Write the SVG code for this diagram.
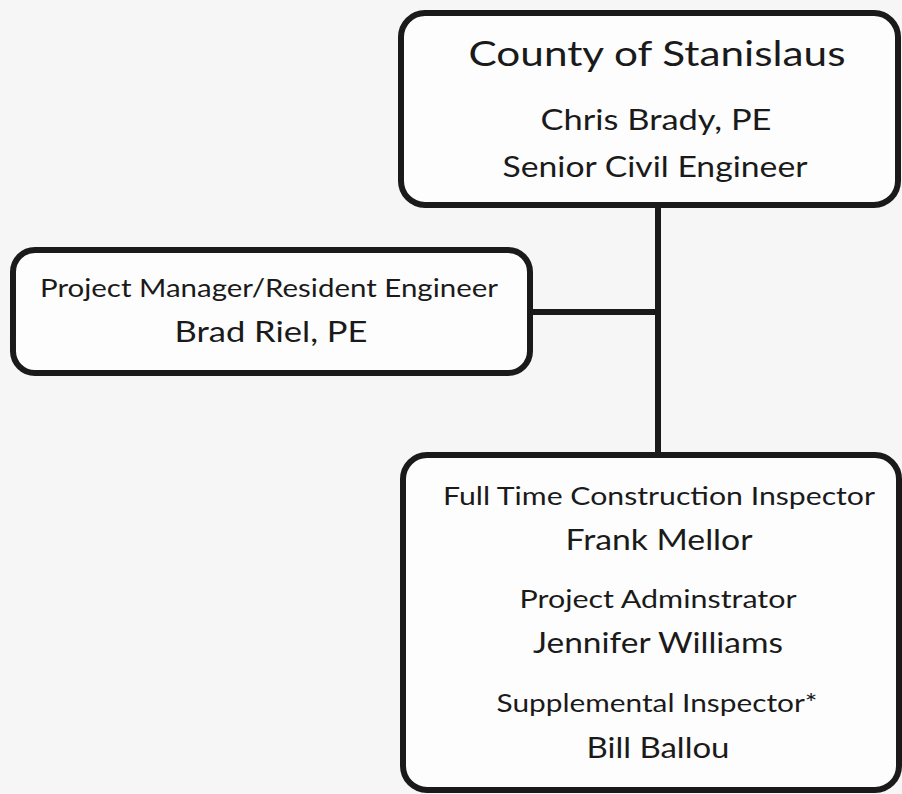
<svg xmlns="http://www.w3.org/2000/svg" width="902" height="794" viewBox="0 0 902 794">
<style>
.box{fill:#fdfdfd;stroke:#1a1a1a;stroke-width:6}
.ln{stroke:#1a1a1a;stroke-width:6;fill:none}
text{font-family:Lato,"Open Sans","Liberation Sans",sans-serif;fill:#1a1a1a;text-anchor:middle}
.big{font-size:35px}
.name{font-size:29px}
.role{font-size:25px}
</style>
<rect width="902" height="794" fill="#f6f6f6"/>
<g id="connectors">
<line class="ln" x1="658" y1="205" x2="658" y2="455"/>
<line class="ln" x1="530" y1="312" x2="658" y2="312"/>
</g>
<g id="county">
<rect class="box" x="401" y="13" width="497" height="192" rx="24"/>
<text class="big" x="657" y="66" textLength="377" lengthAdjust="spacingAndGlyphs">County of Stanislaus</text>
<text class="name" x="656" y="130" textLength="231" lengthAdjust="spacingAndGlyphs">Chris Brady, PE</text>
<text class="name" x="655" y="177" textLength="305" lengthAdjust="spacingAndGlyphs">Senior Civil Engineer</text>
</g>
<g id="pm">
<rect class="box" x="13" y="250" width="517" height="123" rx="22"/>
<text class="role" x="269" y="297" textLength="458" lengthAdjust="spacingAndGlyphs">Project Manager/Resident Engineer</text>
<text class="name" x="271" y="342" textLength="193" lengthAdjust="spacingAndGlyphs">Brad Riel, PE</text>
</g>
<g id="staff">
<rect class="box" x="403" y="455" width="496" height="335" rx="24"/>
<text class="role" x="659" y="505" textLength="432" lengthAdjust="spacingAndGlyphs">Full Time Construction Inspector</text>
<text class="name" x="659" y="550" textLength="187" lengthAdjust="spacingAndGlyphs">Frank Mellor</text>
<text class="role" x="658" y="608" textLength="277" lengthAdjust="spacingAndGlyphs">Project Adminstrator</text>
<text class="name" x="658" y="653" textLength="250" lengthAdjust="spacingAndGlyphs">Jennifer Williams</text>
<text class="role" x="657" y="712" textLength="321" lengthAdjust="spacingAndGlyphs">Supplemental Inspector*</text>
<text class="name" x="658" y="758" textLength="143" lengthAdjust="spacingAndGlyphs">Bill Ballou</text>
</g>
</svg>
